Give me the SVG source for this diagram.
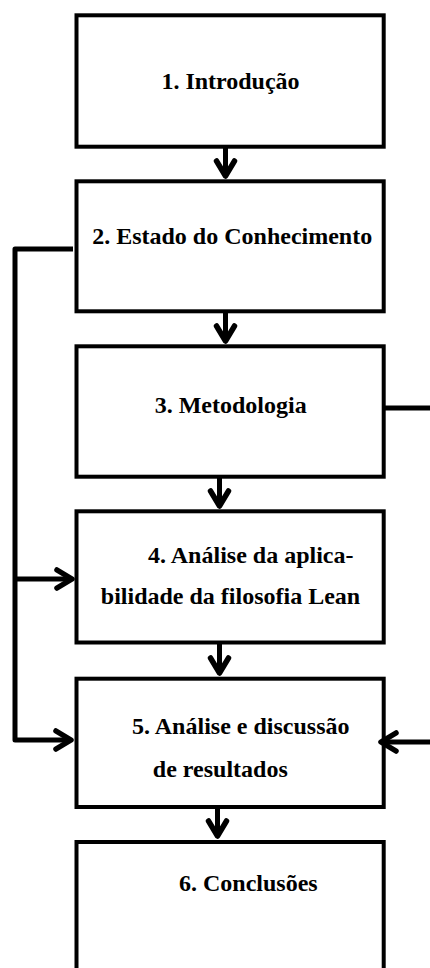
<svg xmlns="http://www.w3.org/2000/svg" width="430" height="968" viewBox="0 0 430 968">
  <style>
    .box { fill: #ffffff; stroke: #000000; stroke-width: 4; }
    .lbl { font-family: "Liberation Serif", "Times New Roman", serif; font-weight: bold; font-size: 24px; fill: #000000; text-anchor: middle; }
    .wire { fill: none; stroke: #000000; stroke-width: 5; stroke-linejoin: round; }
    .head { fill: none; stroke: #000000; stroke-width: 5.5; stroke-linecap: round; stroke-linejoin: round; }
  </style>
  <defs>
    <marker id="chevron" markerUnits="userSpaceOnUse" viewBox="-19 -13 23 26" markerWidth="23" markerHeight="26" refX="0" refY="0" orient="auto">
      <path class="head" d="M -15 -9 L 0 0 L -15 9"/>
    </marker>
  </defs>
  <rect width="430" height="968" fill="#ffffff"/>

  <g id="node-1">
    <rect class="box" x="76.5" y="15.3" width="307.2" height="131.4"/>
    <text class="lbl" x="230.5" y="89">1. Introdução</text>
  </g>
  <g id="node-2">
    <rect class="box" x="76.5" y="181.3" width="307.2" height="130"/>
    <text class="lbl" x="232.2" y="244">2. Estado do Conhecimento</text>
  </g>
  <g id="node-3">
    <rect class="box" x="76.5" y="346.3" width="307.2" height="130.4"/>
    <text class="lbl" x="230.7" y="413">3. Metodologia</text>
  </g>
  <g id="node-4">
    <rect class="box" x="76.5" y="511.3" width="307.2" height="131.2"/>
    <text class="lbl" x="250.8" y="563">4. Análise da aplica-</text>
    <text class="lbl" x="230.5" y="604">bilidade da filosofia Lean</text>
  </g>
  <g id="node-5">
    <rect class="box" x="76.5" y="678.7" width="307.2" height="128.3"/>
    <text class="lbl" x="240.8" y="734">5. Análise e discussão</text>
    <text class="lbl" x="220.3" y="777">de resultados</text>
  </g>
  <g id="node-6">
    <rect class="box" x="76.5" y="842" width="307.2" height="140"/>
    <text class="lbl" x="248.3" y="891">6. Conclusões</text>
  </g>

  <g id="connectors">
    <!-- main sequence -->
    <path class="wire" d="M 225.5 148 L 225.5 176" marker-end="url(#chevron)"/>
    <path class="wire" d="M 225.5 313 L 225.5 341" marker-end="url(#chevron)"/>
    <path class="wire" d="M 219.5 478 L 219.5 506" marker-end="url(#chevron)"/>
    <path class="wire" d="M 219.5 644 L 219.5 673" marker-end="url(#chevron)"/>
    <path class="wire" d="M 217.5 809 L 217.5 836" marker-end="url(#chevron)"/>
    <!-- left feedback from node 2 to nodes 4 and 5 -->
    <path class="wire" d="M 73 249 L 15 249 L 15 740 L 71 740" marker-end="url(#chevron)"/>
    <path class="wire" d="M 15 579 L 72 579" marker-end="url(#chevron)"/>
    <!-- right link from node 3 to node 5 -->
    <path class="wire" d="M 385 408 L 436 408"/>
    <path class="wire" d="M 436 742 L 381 742" marker-end="url(#chevron)"/>
  </g>
</svg>
